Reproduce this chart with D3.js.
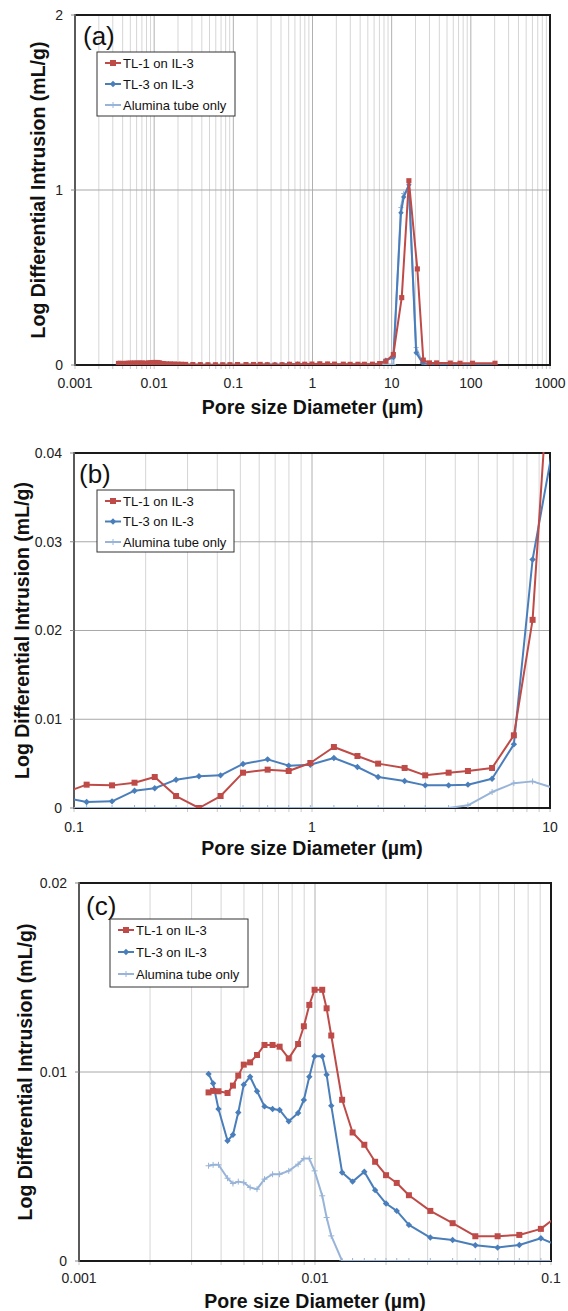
<!DOCTYPE html>
<html>
<head>
<meta charset="utf-8">
<script src="https://cdn.jsdelivr.net/npm/d3@7"></script>
<style>
  body { margin: 0; background: #fff; }
  svg { display: block; font-family: "Liberation Sans", Arial, sans-serif; }
</style>
</head>
<body>
<div id="chart"></div>
<script>
// pore diameters (um) shared by the three samples below 10 um
var poreDiameter = [0.00354, 0.0037, 0.0039, 0.00426, 0.00449, 0.00473, 0.00499, 0.00531, 0.00568, 0.00611,
    0.00661, 0.00708, 0.00774, 0.00848, 0.00897, 0.00946, 0.00996, 0.01073, 0.0112, 0.01172,
    0.01303, 0.01443, 0.01618, 0.01798, 0.0200, 0.0222, 0.0250, 0.0308, 0.0383, 0.0478,
    0.0594, 0.0734, 0.0906, 0.113, 0.1445, 0.1796, 0.2184, 0.2684, 0.335, 0.413,
    0.513, 0.651, 0.798, 0.984, 1.236, 1.552, 1.896, 2.45, 2.99, 3.75,
    4.52, 5.71, 7.05, 8.45];

var tl1Intrusion = [0.00892, 0.0090, 0.00898, 0.00889, 0.00928, 0.00981, 0.01039, 0.01051, 0.0109, 0.01143,
    0.01143, 0.01134, 0.01072, 0.01148, 0.01242, 0.01355, 0.01435, 0.01435, 0.01337, 0.01193,
    0.00853, 0.0068, 0.00615, 0.00525, 0.00454, 0.00413, 0.00348, 0.00265, 0.0020, 0.00131,
    0.00131, 0.00138, 0.0017, 0.00263, 0.00255, 0.00285, 0.00349, 0.00135, 0.0, 0.00135,
    0.00398, 0.00432, 0.00417, 0.00507, 0.00687, 0.00586, 0.0050, 0.00451, 0.00368, 0.00398,
    0.00417, 0.00451, 0.00819, 0.0212];

var tl3Intrusion = [0.0099, 0.0094, 0.00804, 0.00636, 0.00668, 0.00786, 0.00933, 0.00975, 0.00898, 0.00818,
    0.00804, 0.00799, 0.00739, 0.00783, 0.00852, 0.00975, 0.01083, 0.01083, 0.00986, 0.00822,
    0.00468, 0.0042, 0.00472, 0.00375, 0.00304, 0.00265, 0.00191, 0.00124, 0.00111, 0.00083,
    0.00071, 0.00085, 0.0012, 0.00068, 0.00075, 0.00195, 0.00222, 0.00319, 0.00357, 0.00368,
    0.00496, 0.00548, 0.00477, 0.00488, 0.00563, 0.00462, 0.00349, 0.00304, 0.00255, 0.00255,
    0.00263, 0.0033, 0.00717, 0.0280];

var aluminaIntrusion = [0.00504, 0.00509, 0.00509, 0.00438, 0.0041, 0.0042, 0.00415, 0.00389, 0.0038, 0.00433,
    0.00459, 0.00459, 0.00477, 0.00512, 0.00542, 0.00542, 0.00477, 0.00345, 0.0023, 0.00133,
    0, 0, 0, 0, 0, 0, 0, 0, 0, 0,
    0, 0, 0, 0, 0, 0, 0, 0, 0, 0,
    0, 0, 0, 0, 0, 0, 0, 0, 0, 0,
    0.0003, 0.0018, 0.0028, 0.0030];

// coarse points above 10 um (the main peak)
var tl1PeakDiameter = [10.5, 13.4, 16.5, 21.1, 25.1, 30, 37, 55, 73, 105, 202];
var tl1PeakIntrusion = [0.06, 0.385, 1.053, 0.549, 0.028, 0.012, 0.012, 0.011, 0.01, 0.01, 0.01];
var tl3PeakDiameter = [10.5, 13.1, 14.2, 16.5, 20.4, 24.5, 30, 37, 55, 73, 105, 202];
var tl3PeakIntrusion = [0.042, 0.87, 0.96, 1.03, 0.07, 0.012, 0.005, 0.004, 0.004, 0.003, 0.003, 0.003];
var aluminaPeakDiameter = [10.5, 13.1, 14.2, 16.5, 20.4, 24.5, 30];
var aluminaPeakIntrusion = [0.0022, 0.9, 0.98, 1.0, 0.1, 0.01, 0];

var seriesNames = ["TL-1 on IL-3", "TL-3 on IL-3", "Alumina tube only"];

function pairs(xs, ys) {
    return xs.map(function(x, i) { return { x: x, y: ys[i] }; });
}

var series = [
    { name: seriesNames[0], color: "#be4b48", marker: "square",
      data: pairs(poreDiameter, tl1Intrusion).concat(pairs(tl1PeakDiameter, tl1PeakIntrusion)) },
    { name: seriesNames[1], color: "#4a7ebb", marker: "diamond",
      data: pairs(poreDiameter, tl3Intrusion).concat(pairs(tl3PeakDiameter, tl3PeakIntrusion)) },
    { name: seriesNames[2], color: "#98b4d8", marker: "plus",
      data: pairs(poreDiameter, aluminaIntrusion).concat(pairs(aluminaPeakDiameter, aluminaPeakIntrusion)) }
];
// draw the light series first so the others sit on top
var drawOrder = [2, 1, 0];

var panels = [
    { label: "(a)", left: 75, right: 550, top: 15, bottom: 365,
      xDomain: [0.001, 1000], xTicks: [0.001, 0.01, 0.1, 1, 10, 100, 1000],
      yDomain: [0, 2], yTicks: [0, 1, 2], yFormat: d3.format("d"),
      legend: { x: 97, y: 52, w: 138, h: 64, row: 21 },
      labelPos: [83, 45], yTitleX: 38, xTitleY: 414, tickY: 388, markerScale: 0.85 },
    { label: "(b)", left: 74, right: 550, top: 453, bottom: 808,
      xDomain: [0.1, 10], xTicks: [0.1, 1, 10],
      yDomain: [0, 0.04], yTicks: [0, 0.01, 0.02, 0.03, 0.04], yFormat: function(d) { return d === 0 ? "0" : d3.format(".2f")(d); },
      legend: { x: 97, y: 490, w: 137, h: 62, row: 20.5 },
      labelPos: [79, 483], yTitleX: 22, xTitleY: 855, tickY: 832, markerScale: 1 },
    { label: "(c)", left: 79, right: 551, top: 883, bottom: 1261,
      xDomain: [0.001, 0.1], xTicks: [0.001, 0.01, 0.1],
      yDomain: [0, 0.02], yTicks: [0, 0.01, 0.02], yFormat: function(d) { return d === 0 ? "0" : d3.format(".2f")(d); },
      legend: { x: 110, y: 919, w: 138, h: 68, row: 22 },
      labelPos: [86, 915], yTitleX: 25, xTitleY: 1308, tickY: 1283, markerScale: 1 }
];

var svg = d3.select("#chart").append("svg")
    .attr("width", 568)
    .attr("height", 1311);

function xLabel(d) {
    return d < 1 ? String(d) : d3.format("d")(d);
}

function drawMarker(g, type, color, cx, cy, s) {
    if (type === "square") {
        g.append("rect")
            .attr("x", cx - 3 * s).attr("y", cy - 3 * s)
            .attr("width", 6 * s).attr("height", 6 * s)
            .attr("fill", color);
    } else if (type === "diamond") {
        var r = 3.2 * s;
        g.append("path")
            .attr("d", "M" + cx + "," + (cy - r) + "L" + (cx + r) + "," + cy + "L" + cx + "," + (cy + r) + "L" + (cx - r) + "," + cy + "Z")
            .attr("fill", color);
    } else {
        var p = 3 * s;
        g.append("path")
            .attr("d", "M" + (cx - p) + "," + cy + "H" + (cx + p) + "M" + cx + "," + (cy - p) + "V" + (cy + p))
            .attr("stroke", color).attr("stroke-width", 1);
    }
}

panels.forEach(function(p, pi) {
    var x = d3.scaleLog().domain(p.xDomain).range([p.left, p.right]);
    var y = d3.scaleLinear().domain(p.yDomain).range([p.bottom, p.top]);
    var g = svg.append("g");

    // vertical grid: minor then major
    var lo = Math.round(Math.log10(p.xDomain[0])), hi = Math.round(Math.log10(p.xDomain[1]));
    var minor = [], major = [];
    for (var e = lo; e <= hi; e++) {
        major.push(Math.pow(10, e));
        if (e < hi) for (var m = 2; m <= 9; m++) minor.push(m * Math.pow(10, e));
    }
    g.selectAll(".minor").data(minor).enter().append("line")
        .attr("x1", function(d) { return x(d); }).attr("x2", function(d) { return x(d); })
        .attr("y1", p.top).attr("y2", p.bottom)
        .attr("stroke", "#d6d6d6").attr("stroke-width", 1);
    g.selectAll(".major").data(major).enter().append("line")
        .attr("x1", function(d) { return x(d); }).attr("x2", function(d) { return x(d); })
        .attr("y1", p.top).attr("y2", p.bottom)
        .attr("stroke", "#b0b0b0").attr("stroke-width", 1);
    // minor tick marks under the axis
    g.selectAll(".mtick").data(minor.concat(major)).enter().append("line")
        .attr("x1", function(d) { return x(d); }).attr("x2", function(d) { return x(d); })
        .attr("y1", p.bottom).attr("y2", p.bottom + 4)
        .attr("stroke", "#c8c8c8").attr("stroke-width", 1);

    // horizontal grid
    g.selectAll(".hgrid").data(p.yTicks.slice(1, -1)).enter().append("line")
        .attr("x1", p.left).attr("x2", p.right)
        .attr("y1", function(d) { return y(d); }).attr("y2", function(d) { return y(d); })
        .attr("stroke", "#a8a8a8").attr("stroke-width", 1);

    // frame
    g.append("rect")
        .attr("x", p.left).attr("y", p.top)
        .attr("width", p.right - p.left).attr("height", p.bottom - p.top)
        .attr("fill", "none").attr("stroke", "#1a1a1a").attr("stroke-width", 2);
    g.append("line")
        .attr("x1", p.left).attr("x2", p.left).attr("y1", p.top - 1).attr("y2", p.bottom + 1)
        .attr("stroke", "#5a5a5a").attr("stroke-width", 2);
    g.selectAll(".ytick").data(p.yTicks).enter().append("line")
        .attr("x1", p.left - 4).attr("x2", p.left)
        .attr("y1", function(d) { return y(d); }).attr("y2", function(d) { return y(d); })
        .attr("stroke", "#888").attr("stroke-width", 1);

    // tick labels
    g.selectAll(".ylab").data(p.yTicks).enter().append("text")
        .attr("x", p.left - 12).attr("y", function(d) { return y(d); })
        .attr("dy", "0.35em").attr("text-anchor", "end")
        .style("font-size", "14px").attr("fill", "#222")
        .text(p.yFormat);
    g.selectAll(".xlab").data(p.xTicks).enter().append("text")
        .attr("x", function(d) { return x(d); }).attr("y", p.tickY)
        .attr("text-anchor", "middle")
        .style("font-size", "14px").attr("fill", "#222")
        .text(xLabel);

    // axis titles
    g.append("text")
        .attr("transform", "translate(" + p.yTitleX + "," + ((p.top + p.bottom) / 2) + ") rotate(-90)")
        .attr("dy", "0.35em").attr("text-anchor", "middle")
        .style("font-size", "19.5px").style("font-weight", "bold").attr("fill", "#111")
        .text("Log Differential Intrusion (mL/g)");
    g.append("text")
        .attr("x", (p.left + p.right) / 2).attr("y", p.xTitleY)
        .attr("text-anchor", "middle")
        .style("font-size", "19.5px").style("font-weight", "bold").attr("fill", "#111")
        .text("Pore size Diameter (\u00b5m)");

    // data
    svg.append("clipPath").attr("id", "clip" + pi)
        .append("rect")
        .attr("x", p.left).attr("y", p.top - 1)
        .attr("width", p.right - p.left).attr("height", p.bottom - p.top + 1);
    var plot = g.append("g").attr("clip-path", "url(#clip" + pi + ")");
    var line = d3.line().x(function(d) { return x(d.x); }).y(function(d) { return y(d.y); });

    drawOrder.forEach(function(si) {
        var s = series[si];
        plot.append("path")
            .datum(s.data)
            .attr("d", line)
            .attr("fill", "none")
            .attr("stroke", s.color)
            .attr("stroke-width", 2)
            .attr("stroke-linejoin", "round");
        var mg = plot.append("g");
        s.data.filter(function(d) {
            return d.x >= p.xDomain[0] && d.x <= p.xDomain[1] && d.y <= p.yDomain[1];
        }).forEach(function(d) {
            drawMarker(mg, s.marker, s.color, x(d.x), y(d.y), p.markerScale);
        });
    });

    // panel label
    g.append("text")
        .attr("x", p.labelPos[0]).attr("y", p.labelPos[1])
        .style("font-size", "26px").attr("fill", "#111")
        .text(p.label);

    // legend
    var L = p.legend;
    var lg = g.append("g");
    lg.append("rect")
        .attr("x", L.x).attr("y", L.y).attr("width", L.w).attr("height", L.h)
        .attr("fill", "#fff").attr("stroke", "#333").attr("stroke-width", 1);
    series.forEach(function(s, i) {
        var cy = L.y + 11 + i * L.row;
        lg.append("line")
            .attr("x1", L.x + 8).attr("x2", L.x + 24)
            .attr("y1", cy).attr("y2", cy)
            .attr("stroke", s.color).attr("stroke-width", 2);
        drawMarker(lg, s.marker, s.color, L.x + 16, cy, 1);
        lg.append("text")
            .attr("x", L.x + 26).attr("y", cy)
            .attr("dy", "0.35em")
            .style("font-size", "13px").attr("fill", "#111")
            .text(s.name);
    });
});
</script>
</body>
</html>
